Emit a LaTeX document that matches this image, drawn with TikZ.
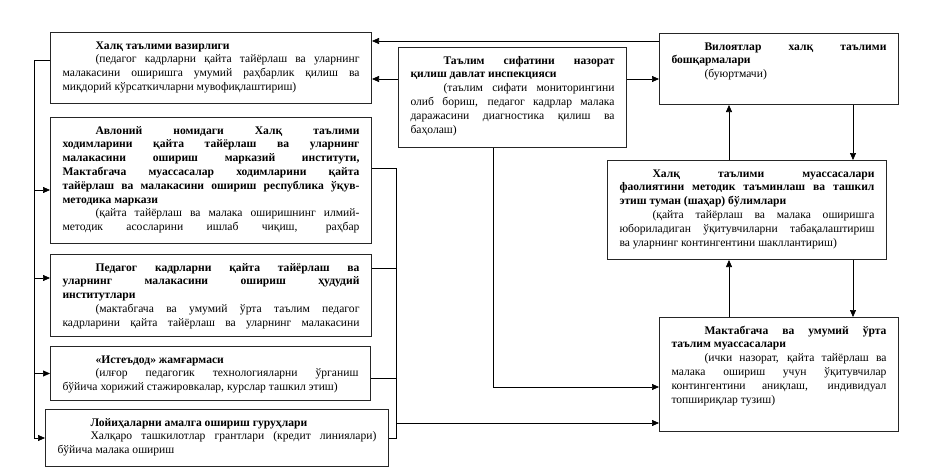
\documentclass[tikz,border=0pt]{standalone}
\usepackage{fontspec}
\setmainfont{Liberation Serif}
\usetikzlibrary{arrows.meta}
\newcommand{\unitbody}[3]{\parbox[t][#2][t]{#1}{\hyphenpenalty=10000 \tolerance=9999 \emergencystretch=2em \setlength{\parindent}{33pt}\strut #3}}

\begin{document}
\begin{tikzpicture}[x=1pt,y=-1pt,
  unit/.style={draw=black!85,line width=1pt,anchor=north west,inner xsep=12pt,inner ysep=7pt,font=\fontsize{11.6}{13.8}\selectfont},
  link/.style={line width=0.7pt},
  arr/.style={link,-{Triangle[length=7pt,width=6pt]}}]
  \useasboundingbox (0,0) rectangle (931,474);
  % left column
  \node[unit](min) at (50,32) {\unitbody{297pt}{57pt}{\textbf{Халқ таълими вазирлиги}\par
    (педагог кадрларни қайта тайёрлаш ва уларнинг\linebreak малакасини оширишга умумий раҳбарлик қилиш ва\linebreak миқдорий кўрсаткичларни мувофиқлаштириш)}};
  \node[unit](avl) at (50,117) {\unitbody{297pt}{112pt}{\textbf{Авлоний номидаги Халқ таълими\linebreak ходимларини қайта тайёрлаш ва уларнинг\linebreak малакасини ошириш марказий институти,\linebreak Мактабгача муассасалар ходимларини қайта\linebreak тайёрлаш ва малакасини ошириш республика ўқув-\linebreak методика маркази}\par
    {\parfillskip=0pt (қайта тайёрлаш ва малака оширишнинг илмий-\linebreak методик асосларини ишлаб чиқиш, раҳбар\par}}};
  \node[unit](ped) at (50,254) {\unitbody{297pt}{68pt}{\textbf{Педагог кадрларни қайта тайёрлаш ва\linebreak уларнинг малакасини ошириш ҳудудий\linebreak институтлари}\par
    {\parfillskip=0pt (мактабгача ва умумий ўрта таълим педагог\linebreak кадрларини қайта тайёрлаш ва уларнинг малакасини\par}}};
  \node[unit](ist) at (50,346) {\unitbody{296pt}{40pt}{\textbf{«Истеъдод» жамғармаси}\par
    (илғор педагогик технологияларни ўрганиш\linebreak бўйича хорижий стажировкалар, курслар ташкил этиш)}};
  \node[unit](loy) at (45,409) {\unitbody{319pt}{43pt}{\textbf{Лойиҳаларни амалга ошириш гуруҳлари}\par
    Халқаро ташкилотлар грантлари (кредит линиялари)\linebreak бўйича малака ошириш}};
  % middle and right
  \node[unit](ins) at (398,47) {\unitbody{204pt}{86pt}{\textbf{Таълим сифатини назорат\linebreak қилиш давлат инспекцияси}\par
    (таълим сифати мониторингини\linebreak олиб бориш, педагог кадрлар малака\linebreak даражасини диагностика қилиш ва\linebreak баҳолаш)}};
  \node[unit](vil) at (659,33) {\unitbody{215pt}{57pt}{\textbf{Вилоятлар халқ таълими\linebreak бошқармалари}\par
    (буюртмачи)}};
  \node[unit](tum) at (607,160) {\unitbody{255pt}{85pt}{\textbf{Халқ таълими муассасалари\linebreak фаолиятини методик таъминлаш ва ташкил\linebreak этиш туман (шаҳар) бўлимлари}\par
    (қайта тайёрлаш ва малака оширишга\linebreak юбориладиган ўқитувчиларни табақалаштириш\linebreak ва уларнинг контингентини шакллантириш)}};
  \node[unit](mak) at (659,317) {\unitbody{215pt}{100pt}{\textbf{Мактабгача ва умумий ўрта\linebreak таълим муассасалари}\par
    (ички назорат, қайта тайёрлаш ва\linebreak малака ошириш учун ўқитувчилар\linebreak контингентини аниқлаш, индивидуал\linebreak топшириқлар тузиш)}};

  % top arrows
  \coordinate (v1) at ([yshift=-8pt]vil.north west);
  \draw[arr] (v1) -- (v1 -| min.east);
  \coordinate (i1) at ([yshift=-32pt]ins.north west);
  \draw[arr] (i1) -- (i1 -| min.east);
  \draw[arr] (i1 -| ins.east) -- (i1 -| vil.west);
  % right column
  \coordinate (c1) at ([xshift=70pt]vil.south west);
  \coordinate (c2) at ([xshift=-46pt]vil.south east);
  \draw[arr] (c2) -- (c2 |- tum.north);
  \draw[arr] (c1 |- tum.north) -- (c1);
  \draw[arr] (c2 |- tum.south) -- (c2 |- mak.north);
  \draw[arr] (c1 |- mak.north) -- (c1 |- tum.south);
  % inspection to schools
  \coordinate (i2) at ([xshift=95pt]ins.south west);
  \coordinate (m1) at ([yshift=-70pt]mak.north west);
  \draw[arr] (i2) |- (m1);
  % left bus
  \coordinate (l0) at ([yshift=-28pt]min.north west);
  \coordinate (lb) at ([xshift=-16pt]l0);
  \draw[link] (l0) -- (lb) -- (lb |- loy.west);
  \coordinate (a1) at ([yshift=-73pt]avl.north west);
  \coordinate (p1) at ([yshift=-24pt]ped.north west);
  \foreach \t in {a1,p1,ist.west,loy.west}
    \draw[arr] (lb |- \t) -- (\t);
  % right bus
  \coordinate (a2) at ([yshift=-51pt]avl.north east);
  \coordinate (rb) at ([xshift=24pt]a2);
  \coordinate (p2) at ([yshift=-14pt]ped.north east);
  \coordinate (s2) at ([yshift=-32pt]ist.north east);
  \draw[link] (a2) -- (rb) -- (rb |- loy.east) -- (loy.east);
  \foreach \t in {p2,s2}
    \draw[link] (\t) -- (\t -| rb);
  \coordinate (m2) at ([yshift=-106pt]mak.north west);
  \draw[arr] (rb |- m2) -- (m2);
\end{tikzpicture}
\end{document}
